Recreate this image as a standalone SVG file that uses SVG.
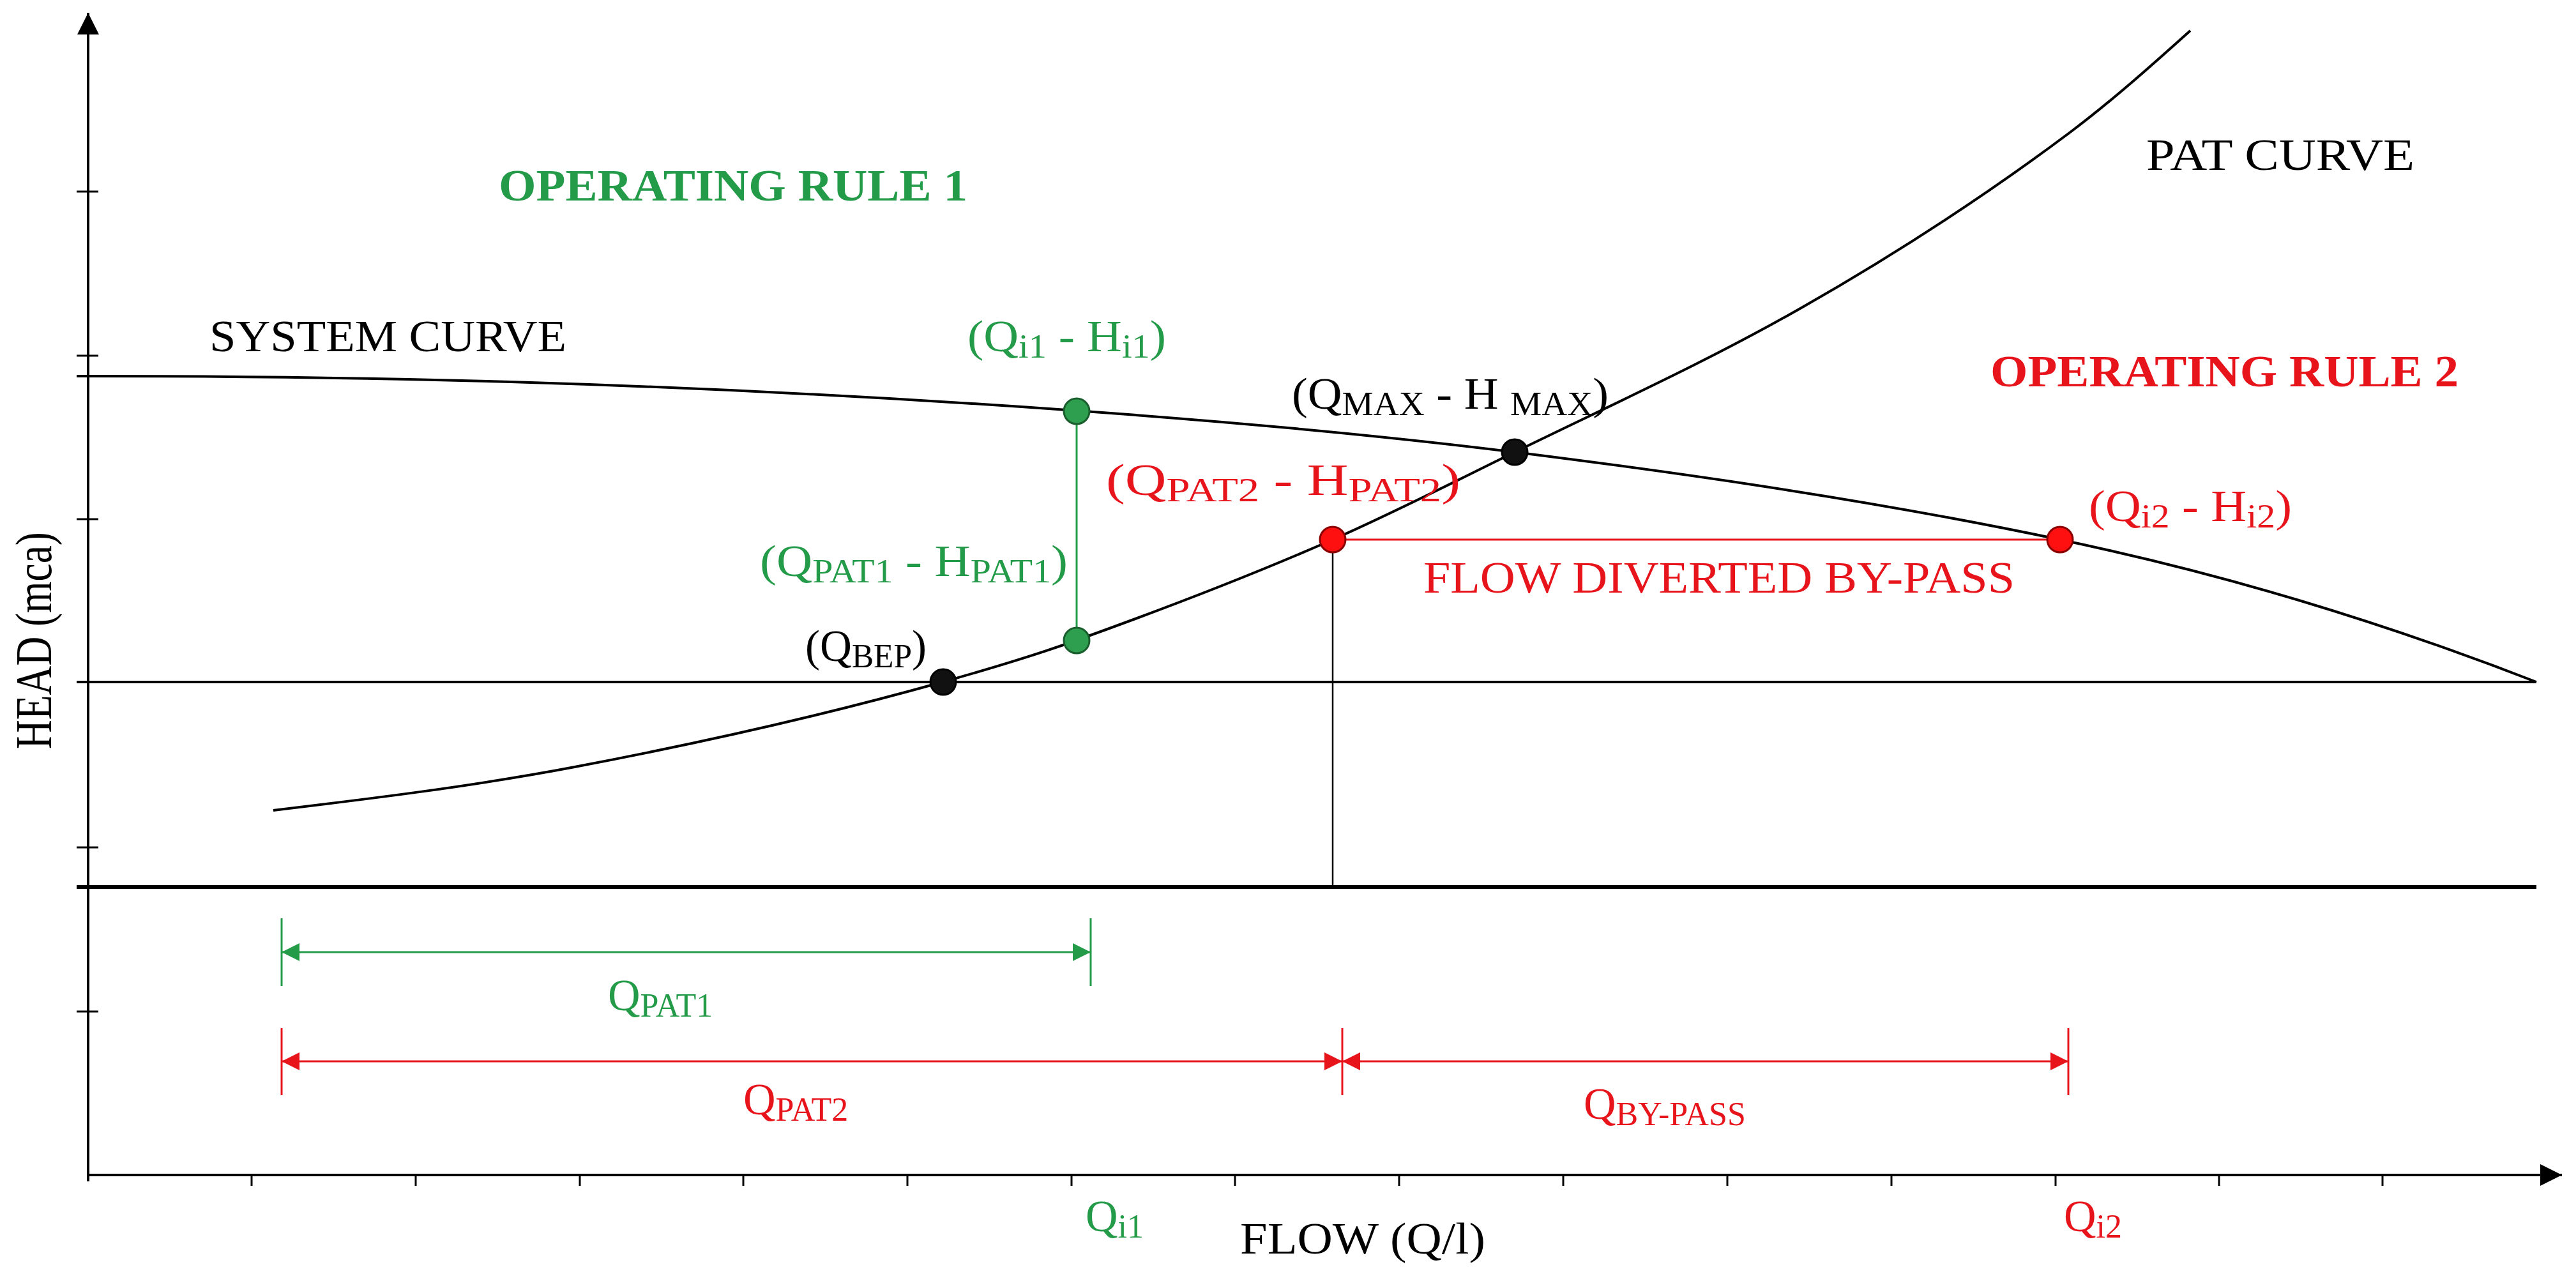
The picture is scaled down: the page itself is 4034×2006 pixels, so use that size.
<svg xmlns="http://www.w3.org/2000/svg" width="4034" height="2006" viewBox="0 0 4034 2006">
<style>
text{font-family:"Liberation Serif","DejaVu Serif",serif;font-size:70px}
.g{fill:#239B48}.r{fill:#E8141B}.k{fill:#000}
.b{font-weight:bold}
.ax{stroke:#000;stroke-width:4;fill:none}
.tk{stroke:#000;stroke-width:3}
.crv{stroke:#000;stroke-width:4;fill:none;stroke-linejoin:round}
.sub{font-size:52px}
</style>
<defs>
<marker id="ag" viewBox="0 0 10 10" refX="10" refY="5" markerWidth="28" markerHeight="32" markerUnits="userSpaceOnUse" orient="auto-start-reverse"><path d="M0,0L10,5L0,10z" fill="#239B48"/></marker>
<marker id="ar" viewBox="0 0 10 10" refX="10" refY="5" markerWidth="28" markerHeight="32" markerUnits="userSpaceOnUse" orient="auto-start-reverse"><path d="M0,0L10,5L0,10z" fill="#E8141B"/></marker>
<marker id="ak" viewBox="0 0 10 10" refX="10" refY="5" markerWidth="34" markerHeight="34" markerUnits="userSpaceOnUse" orient="auto"><path d="M0,0L10,5L0,10z" fill="#000"/></marker>
</defs>
<g id="axes">
<line class="ax" x1="138" y1="1850" x2="138" y2="20" marker-end="url(#ak)"/>
<line class="ax" x1="138" y1="1840" x2="4012" y2="1840" marker-end="url(#ak)"/>
<g class="tk">
<line x1="120" y1="300" x2="154" y2="300"/><line x1="120" y1="557" x2="154" y2="557"/><line x1="120" y1="813" x2="154" y2="813"/><line x1="120" y1="1327" x2="154" y2="1327"/><line x1="120" y1="1584" x2="154" y2="1584"/>
<line x1="394" y1="1840" x2="394" y2="1857"/><line x1="651" y1="1840" x2="651" y2="1857"/><line x1="908" y1="1840" x2="908" y2="1857"/><line x1="1164" y1="1840" x2="1164" y2="1857"/><line x1="1421" y1="1840" x2="1421" y2="1857"/><line x1="1678" y1="1840" x2="1678" y2="1857"/><line x1="1934" y1="1840" x2="1934" y2="1857"/><line x1="2191" y1="1840" x2="2191" y2="1857"/><line x1="2448" y1="1840" x2="2448" y2="1857"/><line x1="2705" y1="1840" x2="2705" y2="1857"/><line x1="2962" y1="1840" x2="2962" y2="1857"/><line x1="3219" y1="1840" x2="3219" y2="1857"/><line x1="3475" y1="1840" x2="3475" y2="1857"/><line x1="3731" y1="1840" x2="3731" y2="1857"/>
</g>
<line x1="120" y1="1068" x2="3972" y2="1068" stroke="#000" stroke-width="4"/>
<line x1="120" y1="1389" x2="3972" y2="1389" stroke="#000" stroke-width="6"/>
<text class="k" style="font-size:80px" transform="translate(80,1003) rotate(-90)" text-anchor="middle" textLength="340" lengthAdjust="spacingAndGlyphs">HEAD (mca)</text>
<text class="k" x="1942" y="1963" textLength="384" lengthAdjust="spacingAndGlyphs">FLOW (Q/l)</text>
</g>
<g id="curves">
<path id="system-curve" class="crv" d="M120,589 C346.7,589 573.3,591.2 800,598 C1095,606.9 1390,621.8 1685,643 C1914,659.5 2143,679.4 2372,708 C2656.7,743.6 2941.3,785.2 3226,845 C3350.7,871.2 3475.3,902.6 3600,940 C3724,977.2 3848,1019.6 3972,1068"/>
<path id="pat-curve" class="crv" d="M428,1269 C585.3,1250.1 742.7,1230.9 900,1201 C1092,1164.5 1284,1121.8 1476,1068 C1545.7,1048.5 1615.3,1028.1 1685,1003 C1819,954.8 1953,904 2087,845 C2182,803.2 2277,754.6 2372,708 C2521.7,634.7 2671.3,567.3 2821,482 C2961.3,402 3101.7,312.2 3242,207 C3304.7,160 3367.3,104.4 3430,48"/>
</g>
<g id="connectors">
<line x1="1686" y1="644" x2="1686" y2="1003" stroke="#239B48" stroke-width="3"/>
<line x1="2087" y1="845" x2="3226" y2="845" stroke="#E8141B" stroke-width="3"/>
<line x1="2087" y1="845" x2="2087" y2="1389" stroke="#000" stroke-width="2.5"/>
<g stroke="#239B48" stroke-width="3">
<line x1="441" y1="1438" x2="441" y2="1544"/><line x1="1708" y1="1438" x2="1708" y2="1544"/>
<line x1="441" y1="1491" x2="1708" y2="1491" marker-start="url(#ag)" marker-end="url(#ag)"/>
</g>
<g stroke="#E8141B" stroke-width="3">
<line x1="441" y1="1610" x2="441" y2="1715"/><line x1="2102" y1="1610" x2="2102" y2="1715"/><line x1="3239" y1="1610" x2="3239" y2="1715"/>
<line x1="441" y1="1662" x2="2102" y2="1662" marker-start="url(#ar)" marker-end="url(#ar)"/>
<line x1="2102" y1="1662" x2="3239" y2="1662" marker-start="url(#ar)" marker-end="url(#ar)"/>
</g>
</g>
<g id="point-bep"><circle cx="1477" cy="1068" r="20" fill="#111" stroke="#000" stroke-width="3"/><text class="k" x="1261" y="1035" textLength="190" lengthAdjust="spacingAndGlyphs">(Q<tspan class="sub" dy="10">BEP</tspan><tspan dy="-10">)</tspan></text></g>
<g id="point-pat1"><circle cx="1686" cy="1003" r="20" fill="#2E9E4F" stroke="#1a5e2e" stroke-width="3"/><text class="g" x="1190" y="902" textLength="482" lengthAdjust="spacingAndGlyphs">(Q<tspan class="sub" dy="10">PAT1</tspan><tspan dy="-10"> - H</tspan><tspan class="sub" dy="10">PAT1</tspan><tspan dy="-10">)</tspan></text></g>
<g id="point-i1"><circle cx="1686" cy="644" r="20" fill="#2E9E4F" stroke="#1a5e2e" stroke-width="3"/><text class="g" x="1515" y="550" textLength="311" lengthAdjust="spacingAndGlyphs">(Q<tspan class="sub" dy="10">i1</tspan><tspan dy="-10"> - H</tspan><tspan class="sub" dy="10">i1</tspan><tspan dy="-10">)</tspan></text></g>
<g id="point-pat2"><circle cx="2087" cy="845" r="20" fill="#FF1010" stroke="#8a0000" stroke-width="3"/><text class="r" x="1732" y="775" textLength="555" lengthAdjust="spacingAndGlyphs">(Q<tspan class="sub" dy="10">PAT2</tspan><tspan dy="-10"> - H</tspan><tspan class="sub" dy="10">PAT2</tspan><tspan dy="-10">)</tspan></text></g>
<g id="point-max"><circle cx="2372" cy="708" r="20" fill="#111" stroke="#000" stroke-width="3"/><text class="k" x="2023" y="640" textLength="496" lengthAdjust="spacingAndGlyphs">(Q<tspan class="sub" dy="10">MAX</tspan><tspan dy="-10"> - H </tspan><tspan class="sub" dy="10">MAX</tspan><tspan dy="-10">)</tspan></text></g>
<g id="point-i2"><circle cx="3226" cy="845" r="20" fill="#FF1010" stroke="#8a0000" stroke-width="3"/><text class="r" x="3271" y="816" textLength="318" lengthAdjust="spacingAndGlyphs">(Q<tspan class="sub" dy="10">i2</tspan><tspan dy="-10"> - H</tspan><tspan class="sub" dy="10">i2</tspan><tspan dy="-10">)</tspan></text></g>
<g id="labels">
<text class="g b" x="781" y="314" textLength="734" lengthAdjust="spacingAndGlyphs">OPERATING RULE 1</text>
<text class="r b" x="3117" y="605" textLength="733" lengthAdjust="spacingAndGlyphs">OPERATING RULE 2</text>
<text class="k" x="328" y="550" textLength="559" lengthAdjust="spacingAndGlyphs">SYSTEM CURVE</text>
<text class="k" x="3361" y="266" textLength="420" lengthAdjust="spacingAndGlyphs">PAT CURVE</text>
<text class="r" x="2229" y="928" textLength="926" lengthAdjust="spacingAndGlyphs">FLOW DIVERTED BY-PASS</text>
<text class="g" x="952" y="1582">Q<tspan class="sub" dy="10">PAT1</tspan></text>
<text class="r" x="1164" y="1745">Q<tspan class="sub" dy="10">PAT2</tspan></text>
<text class="r" x="2480" y="1752">Q<tspan class="sub" dy="10">BY-PASS</tspan></text>
<text class="g" x="1700" y="1928">Q<tspan class="sub" dy="10">i1</tspan></text>
<text class="r" x="3232" y="1928">Q<tspan class="sub" dy="10">i2</tspan></text>
</g>
</svg>
